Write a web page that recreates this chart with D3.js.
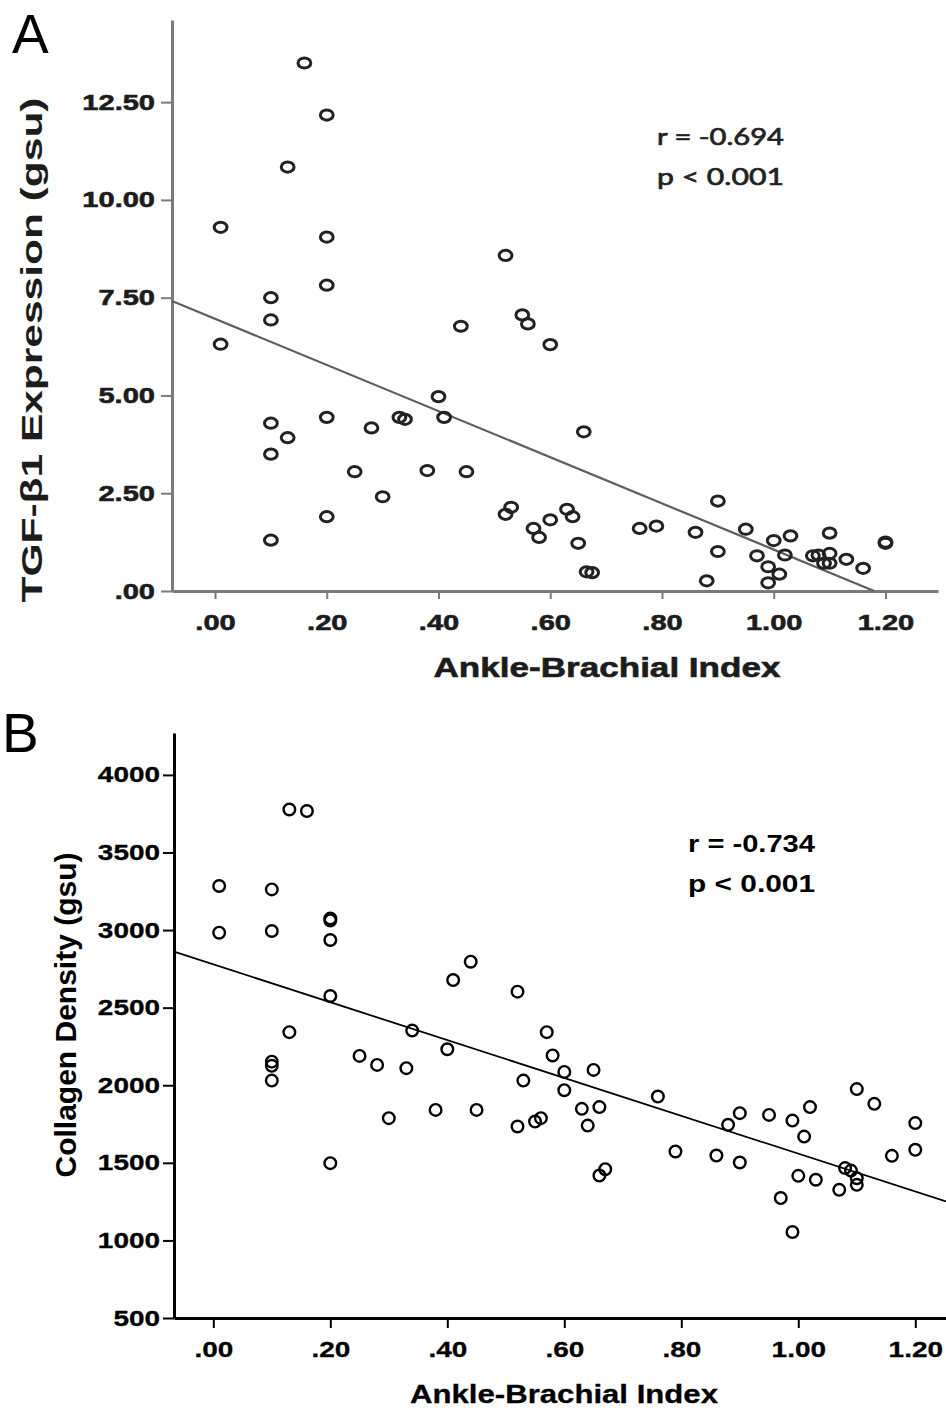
<!DOCTYPE html>
<html>
<head>
<meta charset="utf-8">
<script src="https://cdn.jsdelivr.net/npm/d3@7"></script>
<style>
    body { margin: 0; background: #fff; }
    svg { display: block; }
</style>
</head>
<body>
<svg id="chart" width="946" height="1410"></svg>
<script>
// panel A: ABI vs TGF-beta1 expression
const abiA = [0.01, 0.01, 0.10, 0.10, 0.10, 0.10, 0.10, 0.13, 0.13, 0.16, 0.20, 0.20, 0.20, 0.20, 0.20, 0.25,
    0.28, 0.30, 0.33, 0.34, 0.38, 0.40, 0.41, 0.44, 0.45, 0.52, 0.52, 0.53, 0.55, 0.56, 0.57, 0.58, 0.60, 0.60,
    0.63, 0.64, 0.65, 0.66, 0.665, 0.675, 0.76, 0.79, 0.86, 0.88, 0.90, 0.90, 0.95, 0.97, 0.99, 0.99, 1.00, 1.01,
    1.02, 1.03, 1.07, 1.08, 1.09, 1.10, 1.10, 1.10, 1.13, 1.16, 1.20, 1.20];
const tgfA = [9.30, 6.31, 7.50, 6.93, 4.29, 3.50, 1.30, 10.84, 3.92, 13.50, 12.17, 9.05, 7.82, 4.44, 1.90, 3.05,
    4.17, 2.41, 4.44, 4.39, 3.08, 4.97, 4.44, 6.77, 3.05, 8.58, 1.96, 2.14, 7.06, 6.83, 1.60, 1.37, 6.30, 1.82,
    2.09, 1.90, 1.22, 4.07, 0.49, 0.47, 1.60, 1.66, 1.50, 0.26, 2.30, 1.01, 1.58, 0.90, 0.62, 0.21, 1.29, 0.43,
    0.92, 1.41, 0.90, 0.92, 0.71, 0.71, 0.96, 1.48, 0.81, 0.58, 1.25, 1.22];
const fitA = [6.96, -5.90]; // intercept, slope as drawn
const statsA = ["r = -0.694", "p < 0.001"];
const yTicksA = [0, 2.5, 5, 7.5, 10, 12.5];

// panel B: ABI vs collagen density
const abiB = [0.01, 0.01, 0.10, 0.10, 0.10, 0.10, 0.10, 0.13, 0.13, 0.16, 0.20, 0.20, 0.20, 0.20, 0.20, 0.25,
    0.28, 0.30, 0.33, 0.34, 0.38, 0.40, 0.41, 0.44, 0.45, 0.52, 0.52, 0.53, 0.55, 0.56, 0.57, 0.58, 0.60, 0.60,
    0.63, 0.64, 0.65, 0.66, 0.66, 0.67, 0.76, 0.79, 0.86, 0.88, 0.90, 0.90, 0.95, 0.97, 0.99, 0.99, 1.00, 1.01,
    1.02, 1.03, 1.07, 1.08, 1.09, 1.10, 1.10, 1.10, 1.13, 1.16, 1.20, 1.20];
const collagenB = [3284, 2983, 3262, 2994, 2152, 2125, 2030, 3777, 2342, 3767, 3075, 3062, 2936, 2575, 1498, 2189,
    2131, 1788, 2110, 2352, 1841, 2232, 2678, 2796, 1841, 2603, 1734, 2030, 1766, 1788, 2342, 2192, 2086, 1968,
    1848, 1740, 2099, 1859, 1418, 1459, 1927, 1573, 1547, 1745, 1820, 1502, 1809, 1273, 1772, 1054, 1416, 1669,
    1859, 1391, 1326, 1466, 1450, 1401, 1358, 1975, 1880, 1545, 1756, 1584];
const fitB = [2779, -1220];
const statsB = ["r = -0.734", "p < 0.001"];
const yTicksB = [500, 1000, 1500, 2000, 2500, 3000, 3500, 4000];

const xTicks = [0, 0.2, 0.4, 0.6, 0.8, 1.0, 1.2];
const xTitle = "Ankle-Brachial Index";

addEventListener("load", init);

function init() {
    let svg = d3.select("#chart");
    let bold = "'Liberation Sans', Arial, sans-serif";
    let calibri = "Lato, 'Open Sans', sans-serif";
    let dec = v => d3.format(".2f")(v).replace(/^0\./, ".");

    // stretch glyphs horizontally, the original font is wider than Arial
    function widen(sel, k) {
        sel.each(function () {
            let w = this.getComputedTextLength();
            d3.select(this).attr("textLength", w * k).attr("lengthAdjust", "spacingAndGlyphs");
        });
    }

    function drawPanel(c) {
        let g = svg.append("g");
        let x = d3.scaleLinear().domain(c.xDomain).range([c.left, c.right]);
        let y = d3.scaleLinear().domain(c.yDomain).range([c.bottom, c.top]);

        // panel letter
        g.append("text").attr("x", c.letterX).attr("y", c.letterY).text(c.letter)
            .attr("font-family", bold).attr("font-size", 55).attr("fill", "#000");

        let yAxis = g.append("g").attr("transform", `translate(${c.left},0)`)
            .call(d3.axisLeft(y).tickValues(c.yTicks).tickFormat(c.yFormat)
                .tickSize(c.yTickSize).tickSizeOuter(0).tickPadding(c.yPad));
        let xAxis = g.append("g").attr("transform", `translate(0,${c.bottom})`)
            .call(d3.axisBottom(x).tickValues(xTicks).tickFormat(dec)
                .tickSize(c.xTickSize).tickSizeOuter(0).tickPadding(c.xPad));
        [yAxis, xAxis].forEach(a => {
            a.select(".domain").attr("stroke", c.axisColor).attr("stroke-width", c.axisWidth);
            a.selectAll(".tick line").attr("stroke", c.axisColor).attr("stroke-width", 2);
            a.selectAll("text").attr("font-family", bold).attr("font-weight", "bold")
                .attr("font-size", 22).attr("fill", c.textColor)
                .attr("stroke", c.textColor).attr("stroke-width", c.textHalo);
            widen(a.selectAll("text"), c.stretch);
        });

        // axis titles
        g.append("text").attr("transform", `translate(${c.yTitleX},${c.yTitleY}) rotate(-90)`)
            .attr("text-anchor", "middle").text(c.yTitle)
            .attr("font-family", bold).attr("font-weight", "bold").attr("font-size", c.yTitleSize)
            .attr("fill", c.textColor)
            .attr("textLength", c.yTitleLen).attr("lengthAdjust", "spacingAndGlyphs");
        g.append("text").attr("x", c.xTitleX).attr("y", c.xTitleY)
            .attr("text-anchor", "middle").text(xTitle)
            .attr("font-family", bold).attr("font-weight", "bold").attr("font-size", c.xTitleSize)
            .attr("fill", c.textColor).attr("stroke", c.textColor).attr("stroke-width", c.textHalo)
            .attr("textLength", c.xTitleLen).attr("lengthAdjust", "spacingAndGlyphs");

        // fit line, stops where it meets the x axis
        let x0 = c.xDomain[0];
        let x1 = Math.min(c.xDomain[1], (c.yDomain[0] - c.fit[0]) / c.fit[1]);
        let line = d3.line().x(d => x(d)).y(d => y(c.fit[0] + c.fit[1] * d));
        g.append("path").attr("d", line([x0, x1]))
            .attr("fill", "none").attr("stroke", c.lineColor).attr("stroke-width", c.lineWidth);

        g.selectAll("ellipse").data(d3.zip(c.xs, c.ys)).join("ellipse")
            .attr("cx", d => x(d[0])).attr("cy", d => y(d[1]))
            .attr("rx", c.rx).attr("ry", c.ry)
            .attr("fill", "none").attr("stroke", c.dotColor).attr("stroke-width", c.dotWidth);

        // correlation text
        g.selectAll(".stat").data(c.stats).join("text").attr("class", "stat")
            .attr("x", c.statX).attr("y", (d, i) => c.statY + i * 40).text(d => d)
            .attr("font-family", c.statFont).attr("font-weight", c.statWeight)
            .attr("font-size", 24).attr("fill", c.statColor)
            .attr("stroke", c.statColor).attr("stroke-width", c.statHalo)
            .attr("textLength", c.statLen).attr("lengthAdjust", "spacingAndGlyphs");
    }

    drawPanel({
        letter: "A", letterX: 12, letterY: 53,
        xs: abiA, ys: tgfA, fit: fitA, stats: statsA,
        xDomain: [-0.077, 1.294], yDomain: [0, 14.6],
        left: 172, right: 938, top: 20, bottom: 591,
        yTicks: yTicksA, yFormat: dec, yTickSize: 11, yPad: 6, xTickSize: 8, xPad: 15,
        axisColor: "#7a7a7a", axisWidth: 3, textColor: "#1c1c1c", textHalo: 0.6, stretch: 1.32,
        yTitle: "TGF-\u03b21 Expression (gsu)", yTitleX: 42, yTitleY: 350, yTitleSize: 30, yTitleLen: 505,
        xTitleX: 607, xTitleY: 677, xTitleSize: 27, xTitleLen: 347,
        lineColor: "#5f5f5f", lineWidth: 2.2,
        rx: 6.4, ry: 5.1, dotColor: "#222", dotWidth: 3,
        statX: 657, statY: 145, statFont: calibri, statWeight: "normal", statColor: "#222",
        statHalo: 0.7, statLen: 127
    });

    drawPanel({
        letter: "B", letterX: 2, letterY: 752,
        xs: abiB, ys: collagenB, fit: fitB, stats: statsB,
        xDomain: [-0.0672, 1.2525], yDomain: [500, 4270],
        left: 174, right: 946, top: 733, bottom: 1318,
        yTicks: yTicksB, yFormat: d3.format("d"), yTickSize: 11, yPad: 3, xTickSize: 10, xPad: 13,
        axisColor: "#000", axisWidth: 3, textColor: "#000", textHalo: 0.3, stretch: 1.27,
        yTitle: "Collagen Density (gsu)", yTitleX: 76, yTitleY: 1015, yTitleSize: 29, yTitleLen: 325,
        xTitleX: 564, xTitleY: 1403, xTitleSize: 26, xTitleLen: 308,
        lineColor: "#000", lineWidth: 1.8,
        rx: 5.8, ry: 5.8, dotColor: "#000", dotWidth: 2.4,
        statX: 688, statY: 852, statFont: bold, statWeight: "bold", statColor: "#000",
        statHalo: 0, statLen: 127
    });
}
</script>
</body>
</html>
